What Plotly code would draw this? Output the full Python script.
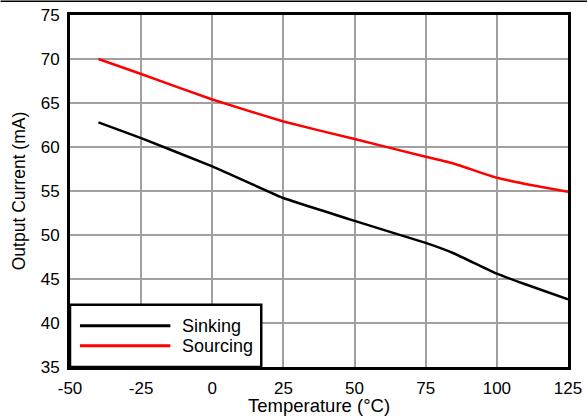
import plotly.graph_objects as go

temperature = [-40, -25, 0, 25, 50, 75, 85, 100, 110, 125]
sinking = [62.8, 61.0, 57.8, 54.2, 51.6, 49.1, 47.9, 45.6, 44.4, 42.7]
sourcing = [70.0, 68.3, 65.4, 62.9, 60.9, 58.9, 58.1, 56.5, 55.8, 54.9]
series_names = ["Sinking", "Sourcing"]
series_colors = ["black", "#ff0000"]

x_ticks = [-50, -25, 0, 25, 50, 75, 100, 125]
y_ticks = [35, 40, 45, 50, 55, 60, 65, 70, 75]
x_title = "Temperature (°C)"
y_title = "Output Current (mA)"

FONT = "Liberation Sans, Arial, sans-serif"

fig = go.Figure()
for name, ys, col in zip(series_names, [sinking, sourcing], series_colors):
    fig.add_trace(go.Scatter(x=temperature, y=ys, name=name, mode="lines", showlegend=False,
                             line=dict(color=col, width=2.5, shape="spline", smoothing=0.3)))

# Legend drawn as a boxed key in the lower-left corner of the plot (paper coordinates)
shapes = [dict(type="rect", xref="paper", yref="paper", x0=0, x1=0.384, y0=0, y1=0.177,
               fillcolor="white", line=dict(color="black", width=2.5), layer="above")]
annotations = []
key_y = [0.117, 0.0605]
for name, col, ky in zip(series_names, series_colors, key_y):
    shapes.append(dict(type="line", xref="paper", yref="paper", x0=0.02, x1=0.2015,
                       y0=ky, y1=ky, line=dict(color=col, width=3), layer="above"))
    annotations.append(dict(xref="paper", yref="paper", x=0.221, y=ky, text=name,
                            showarrow=False, xanchor="left", yanchor="middle",
                            font=dict(size=18, family=FONT, color="black")))

# thin rule along the very top edge of the image
shapes.append(dict(type="line", xref="paper", yref="paper",
                   x0=-69.5 / 498.5, x1=(587 - 69.5) / 498.5,
                   y0=1 + 13.8 / 352.6, y1=1 + 13.8 / 352.6,
                   line=dict(color="black", width=1.5)))

# x-axis title placed tight under the tick labels, as in the reference
annotations.append(dict(xref="paper", yref="paper", x=0.5, y=-0.109, text=x_title,
                        showarrow=False, xanchor="center", yanchor="middle",
                        font=dict(size=18.5, family=FONT, color="black")))

fig.update_layout(
    template="none",
    width=588, height=419,
    margin=dict(l=69.5, r=20, t=14.7, b=51.7, pad=0),
    paper_bgcolor="white", plot_bgcolor="white",
    font=dict(family=FONT, size=17, color="black"),
    showlegend=False,
    hovermode=False,
    xaxis=dict(range=[-50, 125], tickvals=x_ticks, ticktext=[str(v) for v in x_ticks],
               showgrid=True, gridcolor="#a0a0a0", gridwidth=2,
               showline=True, linecolor="black", linewidth=3, mirror=True,
               zeroline=False, ticks="", ticklabelstandoff=4, automargin=False,
               ticklabeloverflow="allow", tickfont=dict(size=17)),
    yaxis=dict(range=[35, 75], tickvals=y_ticks, ticktext=[str(v) for v in y_ticks],
               showgrid=True, gridcolor="#a0a0a0", gridwidth=2,
               showline=True, linecolor="black", linewidth=3, mirror=True,
               zeroline=False, ticks="", ticklabelstandoff=4, automargin=False,
               ticklabeloverflow="allow", tickfont=dict(size=17),
               title=dict(text=y_title, font=dict(size=17.5), standoff=11)),
    shapes=shapes,
    annotations=annotations,
)

fig.write_html("out.html", config={"displayModeBar": False},
               post_script="document.body.style.margin='0';document.body.style.overflow='hidden';")
